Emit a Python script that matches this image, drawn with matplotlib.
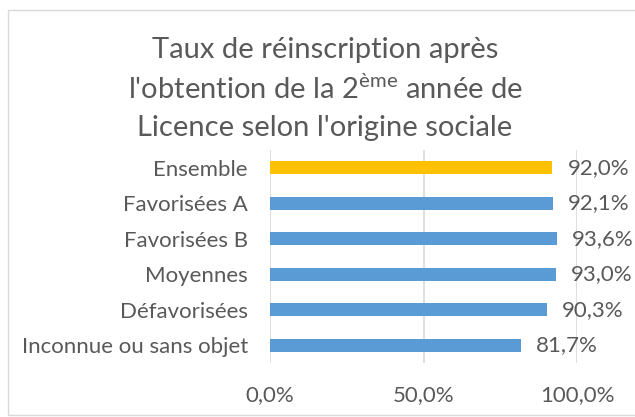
import matplotlib.pyplot as plt
from matplotlib.patches import Rectangle

# data
categories = ["Ensemble", "Favorisées A", "Favorisées B", "Moyennes",
              "Défavorisées", "Inconnue ou sans objet"]
values = [92.0, 92.1, 93.6, 93.0, 90.3, 81.7]
colors = ["#FFC000", "#5B9BD5", "#5B9BD5", "#5B9BD5", "#5B9BD5", "#5B9BD5"]
x_ticks = [0, 50, 100]

plt.rcParams['font.family'] = ['Lato', 'DejaVu Sans']
plt.rcParams['mathtext.fontset'] = 'custom'
plt.rcParams['mathtext.rm'] = 'Lato'
txt_col = '#595959'

fig = plt.figure(figsize=(6.35, 4.17), dpi=100)
# chart border
fig.patches.append(Rectangle((8/635, 2/417), 640/635, 405/417, transform=fig.transFigure,
                             fill=False, edgecolor='#D9D9D9', linewidth=1))

ax = fig.add_axes([270/635, 1-363/417, 307/635, 213/417])
y = list(range(len(categories)))
ax.barh(y, values, height=0.37, color=colors, zorder=3)
ax.set_ylim(len(categories) - 0.5, -0.5)
ax.set_xlim(0, 100)
ax.set_xticks(x_ticks)
ax.set_xticklabels([f"{v:.1f}%".replace('.', ',') for v in x_ticks], fontsize=16, color=txt_col)
ax.set_yticks(y)
ax.set_yticklabels(categories, fontsize=16, color=txt_col)
ax.tick_params(length=0)
ax.tick_params(axis='y', pad=16)
ax.tick_params(axis='x', pad=16)
for s in ax.spines.values():
    s.set_visible(False)
ax.grid(axis='x', color='#D9D9D9', linewidth=1.2, zorder=0)

for i, v in enumerate(values):
    ax.annotate(f"{v:.1f}%".replace('.', ','), (v, i), xytext=(15, 0), textcoords='offset pixels',
                va='center', ha='left', fontsize=16, color=txt_col, annotation_clip=False)

fig.text(0.512, 1-50/417, "Taux de réinscription après", ha='center', va='center', fontsize=21, color=txt_col)
fig.text(0.512, 1-89/417, r"l'obtention de la 2$^{\mathregular{ème}}$ année de", ha='center', va='center', fontsize=21, color=txt_col)
fig.text(0.512, 1-128/417, "Licence selon l'origine sociale", ha='center', va='center', fontsize=21, color=txt_col)

fig.savefig("out.png", dpi=100)
